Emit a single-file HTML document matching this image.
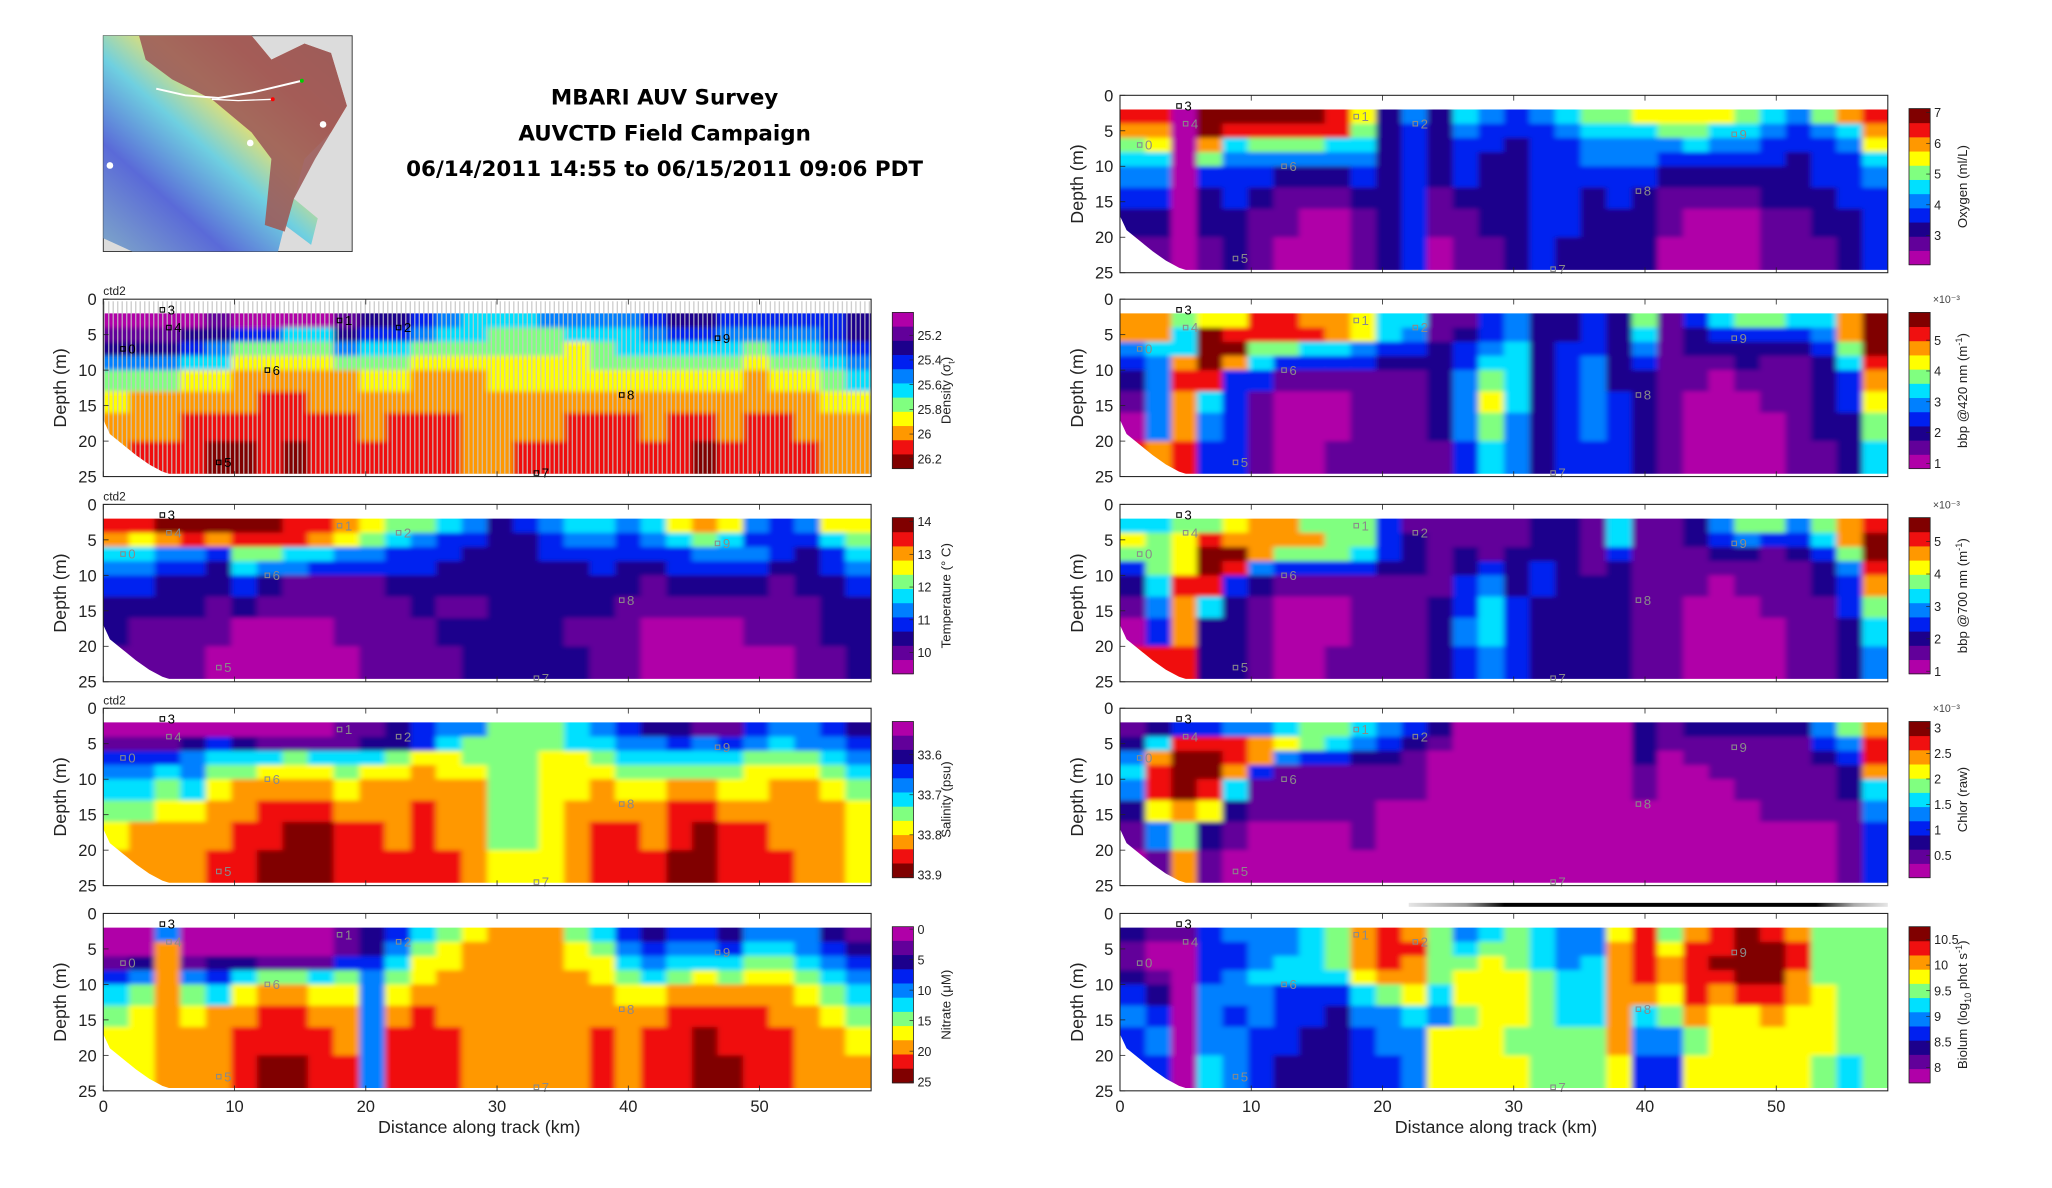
<!DOCTYPE html>
<html><head><meta charset="utf-8"><title>MBARI AUV Survey</title>
<style>
html,body{margin:0;padding:0;background:#fff;}
svg{display:block;font-family:"Liberation Sans",sans-serif;}
</style></head>
<body>
<svg id="fig" xmlns="http://www.w3.org/2000/svg" width="2052" height="1188" viewBox="0 0 1550 897.4">
<defs>
<linearGradient id="terrain" x1="0" y1="1" x2="1" y2="0">
<stop offset="0" stop-color="#7fa8c8"/><stop offset="0.25" stop-color="#5a6ad8"/><stop offset="0.45" stop-color="#6fd0e0"/><stop offset="0.6" stop-color="#e8e070"/><stop offset="0.75" stop-color="#e86040"/><stop offset="1" stop-color="#9c5a58"/>
</linearGradient>
<pattern id="stripes" width="3.4" height="10" patternUnits="userSpaceOnUse"><rect x="0" y="0" width="1" height="10" fill="#c8c8c8"/></pattern>
<linearGradient id="gbar" x1="0" y1="0" x2="1" y2="0">
<stop offset="0" stop-color="#e6e6e6"/><stop offset="0.12" stop-color="#999"/><stop offset="0.2" stop-color="#000"/><stop offset="0.85" stop-color="#000"/><stop offset="0.93" stop-color="#aaa"/><stop offset="1" stop-color="#e6e6e6"/>
</linearGradient>
<filter id="soft" x="-2%" y="-5%" width="104%" height="110%"><feGaussianBlur stdDeviation="2.2 1.6"/></filter>
</defs>
<g id="map">
<rect x="78" y="27" width="188" height="163" fill="#dcdcdc" stroke="#333" stroke-width="0.7"/>
<polygon points="78,27 78,180 100,190 210,190 215,170 235,185 240,165 222,150 230,120 250,100 262,80 250,40 230,33 205,45 190,27" fill="url(#terrain)"/>
<polygon points="135,27 190,27 205,45 230,33 250,40 262,80 250,100 238,120 222,150 215,175 200,170 205,120 190,100 160,75 130,60 110,45 105,27" fill="#9c5c5a" opacity="0.9"/>
<polyline points="118,67 140,72 165,74 190,70 228,61" fill="none" stroke="#fff" stroke-width="1.5"/>
<polyline points="160,75 180,76 206,75" fill="none" stroke="#fff" stroke-width="1"/>
<circle cx="228" cy="61" r="1.5" fill="#0c0"/><circle cx="206" cy="75" r="1.5" fill="#f00"/>
<circle cx="189" cy="108" r="2.5" fill="#fff"/><circle cx="244" cy="94" r="2.5" fill="#fff"/><circle cx="83" cy="125" r="2.5" fill="#fff"/>
</g>
<g font-weight="bold" font-size="16.2" text-anchor="middle" fill="#000" font-family="DejaVu Sans, sans-serif">
<text x="502" y="79">MBARI AUV Survey</text>
<text x="502" y="106">AUVCTD Field Campaign</text>
<text x="502" y="133">06/14/2011 14:55 to 06/15/2011 09:06 PDT</text>
</g>
<g id="panels"></g>
</svg>
<script>
const cmap = ["#b000a8","#62009a","#1c008c","#0020f0","#0080ff","#00e0ff","#80ff80","#ffff00","#ff9800","#f01010","#800000"];
const depthEdges = [2,4,6,8,10,13,16,20,24.6];
const kmMax = 58.5;
const xTickValues = [0,10,20,30,40,50];
const yTickValues = [0,5,10,15,20,25];

const densityGrid = ["000010000122345554444322333332","111223355233455666555433444432","222346666455666666765555565543","444557777666777777766666676654","666778888877888777777777787765","788888998888888888888888888877","888999999989998888999899899888","8999aa9a999999889999999a999988"];
const temperatureGrid = ["99aaaaa99876654234554578743477","878989998765433223443456533356","554436655443332223333334443235","443325443333322222232233332234","332223211112222222222122221223","222212111111211222221111111122","211110000111122222111000011122","111100000011112222211000000112"];
const salinityGrid = ["000000000112344666543221134432","111232111122356666554434345443","333455565556776667765555566654","445466777677877667776666677765","556578888788888667787788778876","667788999888988667888899888887","7888899aa99898866789989a998887","888899aaa9999987778999aa999887"];
const nitrateGrid = ["004000000123567888653233244421","008000000124678888764344355432","128122111335778888775455566543","348435665646788888876567677654","568657887747888888887788888765","678788998848988888888899998876","77888999984999888889899a999887","778889aa994999888889899aa99888"];
const oxygenGrid = ["990aaaaa9724254345667777654689","880a99999623243334555665543458","670856665523233233444454433347","550644444423232233444333332335","440333222323232233333222222334","330232111223122233232111122233","220221100123112233222100011223","110121000123011232222000011123"];
const bbp420Grid = ["88677998875511342232613566558a","885a9999875412342232512333348a","455aa665543323452332412222236a","348a85333322235523423111211259","249933111111246523422110111238","148531000111247523432100011237","048431000111246423432100001226","989331001111135423332100001125"];
const bbp700Grid = ["556678866631111122151124664689","7679888866321111221511234335 8a","667aa86665321212221311122123 6a","367a94333322123232121111111249","259932111111134232221110111238","148521000111235322221100011136","038221000111245322221100001125","999221001111234322221100001124"].map(s=>s.replace(/ /g,""));
const chlorGrid = ["123344566543200000002122222468","2599987654321000000021111113 49","48aa984332210000000020111112 39","59aa83111111000000001001111128","49a951111111000000001000111125","278721111100000000000000011114","146210000100000000000000000013","018100000000000000000000000013"].map(s=>s.replace(/ /g,""));
const biolumGrid = ["21134445689864565447 9689a98666","10033445689965665448979 9aa9666","100334556898667654589 89aaa9666","21034555578867776558 989 9aa8666","32044433356757776558879899 8766","43043433244546776558568778 7766","34044332234477766668446777 7766","33054322233477776667337777 7656"].map(s=>s.replace(/ /g,""));

const densityTicks = [25.2,25.4,25.6,25.8,26,26.2];
const temperatureTicks = [10,11,12,13,14];
const salinityTicks = [33.6,33.7,33.8,33.9];
const nitrateTicks = [0,5,10,15,20,25];
const oxygenTicks = [3,4,5,6,7];
const bbp420Ticks = [1,2,3,4,5];
const bbp700Ticks = [1,2,3,4,5];
const chlorTicks = [0.5,1,1.5,2,2.5,3];
const biolumTicks = [8,8.5,9,9.5,10,10.5];

const markerLabels = ["0","1","2","3","4","5","6","7","8","9"];
const markerKm = [1.5,18,22.5,4.5,5,8.8,12.5,33,39.5,46.8];
const markerDepth = [7,3,4,1.5,4,23,10,24.5,13.5,5.5];

const panels = [
 {name:"density",grid:densityGrid,x:78,y:226,ticks:densityTicks,top:25.015,bot:26.28,cbTitle:"Density (σ",sub:"t",cbTitleEnd:")",ctd:true,stripes:true,dark:true,xlab:false},
 {name:"temperature",grid:temperatureGrid,x:78,y:381,ticks:temperatureTicks,top:14.12,bot:9.35,cbTitle:"Temperature (° C)",ctd:true,xlab:false},
 {name:"salinity",grid:salinityGrid,x:78,y:535,ticks:salinityTicks,top:33.517,bot:33.907,cbTitle:"Salinity (psu)",ctd:true,xlab:false},
 {name:"nitrate",grid:nitrateGrid,x:78,y:690,ticks:nitrateTicks,top:-0.4,bot:25.2,cbTitle:"Nitrate (μM)",xlab:true},
 {name:"oxygen",grid:oxygenGrid,x:846,y:72,ticks:oxygenTicks,top:7.13,bot:2.05,cbTitle:"Oxygen (ml/L)",xlab:false},
 {name:"bbp420",grid:bbp420Grid,x:846,y:226,ticks:bbp420Ticks,top:5.9,bot:0.83,cbTitle:"bbp @420 nm (m",sup:"-1",cbTitleEnd:")",exp:true,xlab:false},
 {name:"bbp700",grid:bbp700Grid,x:846,y:381,ticks:bbp700Ticks,top:5.74,bot:0.92,cbTitle:"bbp @700 nm (m",sup:"-1",cbTitleEnd:")",exp:true,xlab:false},
 {name:"chlor",grid:chlorGrid,x:846,y:535,ticks:chlorTicks,top:3.13,bot:0.06,cbTitle:"Chlor (raw)",exp:true,xlab:false},
 {name:"biolum",grid:biolumGrid,x:846,y:690,ticks:biolumTicks,top:10.75,bot:7.7,cbTitle:"Biolum (log",sub:"10",cbTitleEnd:" phot s",sup2:"-1",xlab:true,gbar:true}
];
const W = 580, H = 134;
const NS = "http://www.w3.org/2000/svg";
const root = document.getElementById("panels");
const defs = document.querySelector("defs");
function mk(tag, attrs, parent){const e=document.createElementNS(NS,tag);for(const k in attrs)e.setAttribute(k,attrs[k]);(parent||root).appendChild(e);return e;}

panels.forEach((p,pi)=>{
 const xs = km => p.x + km/kmMax*W;
 const ys = d => p.y + d/25*H;
 const g = mk("g",{});
 
 
 const cp = mk("clipPath",{id:"clip"+pi},defs);
 mk("rect",{x:p.x,y:ys(2),width:W,height:ys(24.6)-ys(2)},cp);
 const clipG = mk("g",{"clip-path":"url(#clip"+pi+")"},g);
 const cells = mk("g",{filter:"url(#soft)"},clipG);
 
 
 const nCols = p.grid[0].length;
 const dk = kmMax/nCols;
 p.grid.forEach((row,ri)=>{
  for(let ci=0;ci<row.length;ci++){
   const lv = parseInt(row[ci],16);
   if(isNaN(lv)) continue;
   const x0 = ci===0 ? xs(-1) : xs(ci*dk);
   const x1 = ci===row.length-1 ? xs(kmMax+1) : xs((ci+1)*dk);
   const y0 = ri===0 ? ys(1) : ys(depthEdges[ri]);
   const y1 = ri===p.grid.length-1 ? ys(26) : ys(depthEdges[ri+1]);
   const r = mk("rect",{x:x0,y:y0,width:x1-x0+0.4,height:y1-y0+0.4,fill:cmap[lv]},cells);
   
   
  }
 });
 if(p.stripes){
  const s = mk("rect",{x:p.x,y:ys(2),width:W,height:ys(24.6)-ys(2),fill:"url(#stripes)",opacity:"0.8"},g);
  
  
  const tk = mk("rect",{x:p.x,y:ys(0.3),width:W,height:ys(2)-ys(0.3),fill:"url(#stripes)",opacity:"0.9"},g);
  
  
 }
 const wedge = mk("polygon",{points:[[0,17],[0.5,19],[1.5,20.5],[2.5,22],[3.5,23.3],[4.5,24.3],[5,24.6],[5,25],[0,25]].map(a=>xs(a[0])+","+ys(a[1])).join(" "),fill:"#fff"},g);
 
 
 markerLabels.forEach((lab,i)=>{
  const col = (lab==="3"||p.dark) ? "#000" : "#8a8a8a";
  const mx = xs(markerKm[i]), my = ys(markerDepth[i]);
  const sq = mk("rect",{x:mx-1.7,y:my-1.7,width:3.4,height:3.4,fill:"none",stroke:col,"stroke-width":"0.8"},g);
  
  
  const t = mk("text",{x:mx+4,y:my+3.5,"font-size":"10",fill:col},g);
  t.textContent = lab;
  
  
 });
 const fr = mk("rect",{x:p.x,y:p.y,width:W,height:H,fill:"none",stroke:"#222","stroke-width":"0.8"},g);
 
 
 yTickValues.forEach(v=>{
  mk("line",{x1:p.x,x2:p.x+4,y1:ys(v),y2:ys(v),stroke:"#222","stroke-width":"0.6"},g);
  const t = mk("text",{x:p.x-5,y:ys(v)+4.5,"font-size":"12.5","text-anchor":"end",fill:"#222"},g);
  t.textContent = v;
  
  
 });
 xTickValues.forEach(v=>{
  mk("line",{x1:xs(v),x2:xs(v),y1:p.y+H,y2:p.y+H-4,stroke:"#222","stroke-width":"0.6"},g);
  mk("line",{x1:xs(v),x2:xs(v),y1:p.y,y2:p.y+4,stroke:"#222","stroke-width":"0.6"},g);
  if(p.xlab){
   const t = mk("text",{x:xs(v),y:p.y+H+16,"font-size":"12.5","text-anchor":"middle",fill:"#222"},g);
   t.textContent = v;
   
   
  }
 });
 if(p.xlab){
  const t = mk("text",{x:p.x+W/2-6,y:p.y+H+32,"font-size":"13.5","text-anchor":"middle",fill:"#222"},g);
  t.textContent = "Distance along track (km)";
  
  
 }
 const yl = mk("text",{x:0,y:0,"font-size":"13.5","text-anchor":"middle",fill:"#222",transform:`translate(${p.x-28},${p.y+H/2}) rotate(-90)`},g);
 yl.textContent = "Depth (m)";
 
 
 if(p.ctd){
  const t = mk("text",{x:p.x,y:p.y-3,"font-size":"9",fill:"#222"},g);
  t.textContent = "ctd2";
  
  
 }
 if(p.gbar){
  const gb = mk("rect",{x:xs(22),y:p.y-8,width:xs(kmMax)-xs(22),height:3,fill:"url(#gbar)"},g);
  
  
 }
 const cbx = p.x+W+16, cbw = 16, cbt = p.y+10, cbb = p.y+128;
 const cb = mk("g",{},g);
 
 
 const nL = cmap.length;
 const lowAtTop = p.top < p.bot;
 for(let i=0;i<nL;i++){
  const step = (cbb-cbt)/nL;
  const y0 = lowAtTop ? cbt + i*step : cbb - (i+1)*step;
  mk("rect",{x:cbx,y:y0,width:cbw,height:step+0.3,fill:cmap[i]},cb);
 }
 mk("rect",{x:cbx,y:cbt,width:cbw,height:cbb-cbt,fill:"none",stroke:"#222","stroke-width":"0.6"},cb);
 const cy = v => cbt + (v-p.top)/(p.bot-p.top)*(cbb-cbt);
 p.ticks.forEach(v=>{
  mk("line",{x1:cbx+cbw-3,x2:cbx+cbw,y1:cy(v),y2:cy(v),stroke:"#222","stroke-width":"0.5"},cb);
  const t = mk("text",{x:cbx+cbw+3,y:cy(v)+3.5,"font-size":"9.5",fill:"#222"},cb);
  t.textContent = v;
  
  
 });
 if(p.exp){
  const t = mk("text",{x:cbx+cbw+2,y:p.y+3,"font-size":"8",fill:"#444"},cb);
  t.textContent = "×10⁻³";
  
  
 }
 const ct = mk("text",{x:0,y:0,"font-size":"10","text-anchor":"middle",fill:"#222",transform:`translate(${cbx+cbw+28},${(cbt+cbb)/2}) rotate(-90)`},cb);
 
 
 ct.appendChild(document.createTextNode(p.cbTitle));
 if(p.sub){const s=mk("tspan",{"font-size":"7",dy:"3"},ct);s.textContent=p.sub;}
 if(p.sup){const s=mk("tspan",{"font-size":"7",dy:"-4"},ct);s.textContent=p.sup;}
 if(p.cbTitleEnd){const s=mk("tspan",{dy:p.sub?"-3":(p.sup?"4":"0")},ct);s.textContent=p.cbTitleEnd;}
 if(p.sup2){const s=mk("tspan",{"font-size":"7",dy:"-4"},ct);s.textContent=p.sup2;const e=mk("tspan",{dy:"4"},ct);e.textContent=")";}
});
</script>
</body></html>
